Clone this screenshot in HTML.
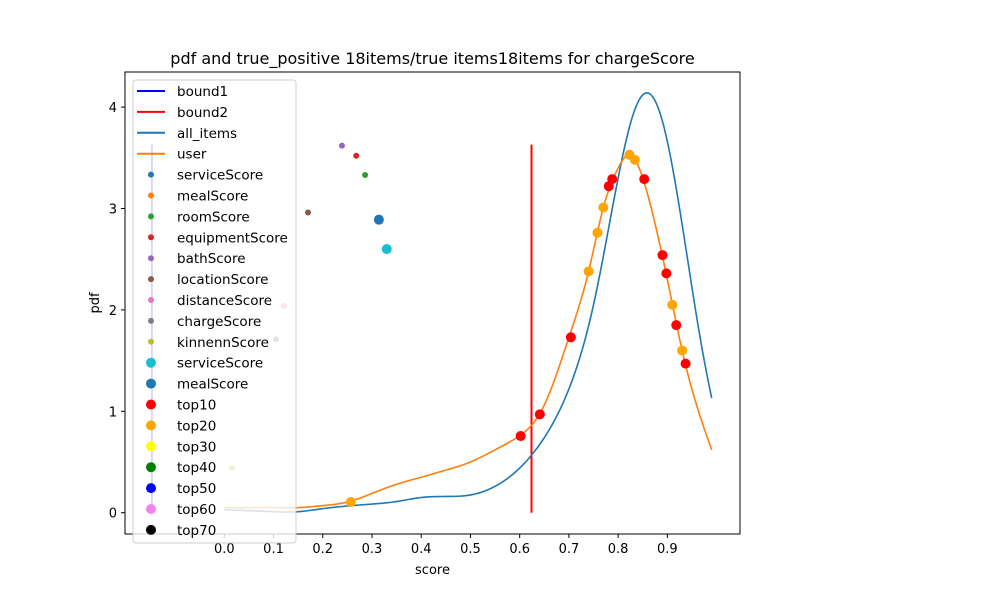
<!DOCTYPE html>
<html><head><meta charset="utf-8"><style>
html,body{margin:0;padding:0;background:#fff;}
svg{display:block;font-family:"DejaVu Sans","Liberation Sans",sans-serif;}
</style></head><body>
<svg id="chart" width="1000" height="600" xmlns="http://www.w3.org/2000/svg">
<rect x="0" y="0" width="1000" height="600" fill="#fff"/>
</svg>
<script>
const allX=[0.0,0.05,0.1,0.15,0.2,0.25,0.3,0.35,0.4,0.45,0.5,0.55,0.6,0.65,0.7,0.75,0.8,0.83,0.86,0.89,0.9,0.92,0.95,0.97,0.99];
const allY=[0.03,0.02,0.01,0.01,0.04,0.066,0.085,0.11,0.15,0.16,0.175,0.26,0.44,0.74,1.22,2.05,3.3,3.92,4.14,3.86,3.66,3.14,2.22,1.63,1.13];
const userX=[0.0,0.05,0.1,0.15,0.2,0.25,0.3,0.35,0.4,0.45,0.5,0.55,0.6,0.64,0.67,0.7,0.74,0.77,0.8,0.825,0.85,0.875,0.9,0.93,0.96,0.99];
const userY=[0.05,0.05,0.05,0.05,0.07,0.105,0.19,0.28,0.35,0.42,0.5,0.62,0.76,0.97,1.3,1.73,2.38,3.01,3.4,3.53,3.3,2.85,2.3,1.6,1.05,0.62];
const top10X=[0.602,0.641,0.704,0.781,0.788,0.853,0.890,0.898,0.918,0.937];
const top10Y=[0.756,0.97,1.73,3.22,3.29,3.29,2.54,2.36,1.85,1.47];
const top20X=[0.257,0.740,0.758,0.770,0.823,0.834,0.910,0.930];
const top20Y=[0.105,2.38,2.76,3.01,3.53,3.48,2.05,1.60];
const scoreNames=["bathScore","equipmentScore","roomScore","locationScore","mealScore","serviceScore","distanceScore","chargeScore","kinnennScore"];
const scoreX=[0.239,0.268,0.286,0.170,0.314,0.330,0.121,0.105,0.016];
const scoreY=[3.62,3.52,3.33,2.96,2.89,2.60,2.04,1.71,0.44];
const scoreColors=["#9467bd","#d62728","#2ca02c","#8c564b","#1f77b4","#17becf","#e377c2","#7f7f7f","#bcbd22"];
const scoreR=[3,3,3,3,5,5,3,3,3];
const bound1X=[-0.147];const bound2X=[0.624];const boundTop=[3.63];
const xTicks=[0,0.1,0.2,0.3,0.4,0.5,0.6,0.7,0.8,0.9];
const xTickLabels=["0.0","0.1","0.2","0.3","0.4","0.5","0.6","0.7","0.8","0.9"];
const yTicks=[0,1,2,3,4];
const legendLabels=["bound1","bound2","all_items","user","serviceScore","mealScore","roomScore","equipmentScore","bathScore","locationScore","distanceScore","chargeScore","kinnennScore","serviceScore","mealScore","top10","top20","top30","top40","top50","top60","top70"];

const L=125,R=740,T=72,B=534;
const sx=v=>224.3+v*492.3;
const sy=v=>512.7-v*101.4;
const NS="http://www.w3.org/2000/svg";
const svg=document.getElementById('chart');
function mk(tag,attrs,parent){const e=document.createElementNS(NS,tag);for(const k in attrs)e.setAttribute(k,attrs[k]);(parent||svg).appendChild(e);return e;}
function spline(xs,ys){const n=xs.length,h=[],al=[0],l=[1],mu=[0],z=[0],c=new Array(n).fill(0),b=[],d=[];
for(let i=0;i<n-1;i++)h.push(xs[i+1]-xs[i]);
for(let i=1;i<n-1;i++)al.push(3/h[i]*(ys[i+1]-ys[i])-3/h[i-1]*(ys[i]-ys[i-1]));
for(let i=1;i<n-1;i++){l[i]=2*(xs[i+1]-xs[i-1])-h[i-1]*mu[i-1];mu[i]=h[i]/l[i];z[i]=(al[i]-h[i-1]*z[i-1])/l[i];}
for(let j=n-2;j>=0;j--){c[j]=(j>0?z[j]:0)-mu[j]*c[j+1];b[j]=(ys[j+1]-ys[j])/h[j]-h[j]*(c[j+1]+2*c[j])/3;d[j]=(c[j+1]-c[j])/(3*h[j]);}
let pts=[];for(let j=0;j<n-1;j++){for(let k=0;k<12;k++){const t=h[j]*k/12;pts.push([xs[j]+t,ys[j]+b[j]*t+c[j]*t*t+d[j]*t*t*t]);}}
pts.push([xs[n-1],ys[n-1]]);
return 'M'+pts.map(p=>sx(p[0]).toFixed(2)+','+sy(p[1]).toFixed(2)).join(' L');}

let e=mk('line',{x1:sx(bound1X[0]),x2:sx(bound1X[0]),y1:sy(boundTop[0]),y2:sy(0),stroke:'#0000ff','stroke-width':1.5});

e=mk('line',{x1:sx(bound2X[0]),x2:sx(bound2X[0]),y1:sy(boundTop[0]),y2:sy(0),stroke:'#ff0000','stroke-width':2});

e=mk('path',{d:spline(allX,allY),fill:'none',stroke:'#1f77b4','stroke-width':1.6,'stroke-linejoin':'round'});

e=mk('path',{d:spline(userX,userY),fill:'none',stroke:'#ff7f0e','stroke-width':1.6,'stroke-linejoin':'round'});

for(let i=0;i<scoreX.length;i++){e=mk('circle',{cx:sx(scoreX[i]),cy:sy(scoreY[i]),r:scoreR[i],fill:scoreColors[i]});
}
for(let i=0;i<top10X.length;i++){e=mk('circle',{cx:sx(top10X[i]),cy:sy(top10Y[i]),r:5,fill:'#ff0000'});
}
for(let i=0;i<top20X.length;i++){e=mk('circle',{cx:sx(top20X[i]),cy:sy(top20Y[i]),r:5,fill:'#ffa500'});
}

e=mk('rect',{x:L,y:T,width:R-L,height:B-T,fill:'none',stroke:'#000','stroke-width':1});

xTicks.forEach((t,i)=>{mk('line',{x1:sx(t),x2:sx(t),y1:B,y2:B+4,stroke:'#000'});
e=mk('text',{x:sx(t),y:B+19,'font-size':13,'text-anchor':'middle',fill:'#000'});e.textContent=xTickLabels[i];
});
yTicks.forEach(t=>{mk('line',{x1:L-4,x2:L,y1:sy(t),y2:sy(t),stroke:'#000'});
e=mk('text',{x:L-8,y:sy(t)+5,'font-size':13,'text-anchor':'end',fill:'#000'});e.textContent=String(t);
});
e=mk('text',{x:432.5,y:574,'font-size':13,'text-anchor':'middle'});e.textContent='score';

e=mk('text',{x:0,y:0,'font-size':13,'text-anchor':'middle',transform:'translate(99,303) rotate(-90)'});e.textContent='pdf';

e=mk('text',{x:432.5,y:64,'font-size':16,'text-anchor':'middle'});e.textContent='pdf and true_positive 18items/true items18items for chargeScore';


const lg=mk('g',{});

mk('rect',{x:133,y:80,width:163,height:463,rx:3,fill:'rgba(255,255,255,0.8)',stroke:'#ccc','stroke-width':1},lg);
const hcol=['#0000ff','#ff0000','#1f77b4','#ff7f0e','#1f77b4','#ff7f0e','#2ca02c','#d62728','#9467bd','#8c564b','#e377c2','#7f7f7f','#bcbd22','#17becf','#1f77b4','#ff0000','#ffa500','#ffff00','#008000','#0000ff','#ee82ee','#000000'];
legendLabels.forEach((lab,i)=>{const y=91+i*20.9;
const g=mk('g',{},lg);
if(i<4)mk('line',{x1:137,x2:165,y1:y,y2:y,stroke:hcol[i],'stroke-width':2},g);
else mk('circle',{cx:151,cy:y,r:i<13?3:5,fill:hcol[i]},g);
const t=mk('text',{x:177,y:y+5,'font-size':13.5,fill:'#000'},g);t.textContent=lab;});
</script>
</body></html>
